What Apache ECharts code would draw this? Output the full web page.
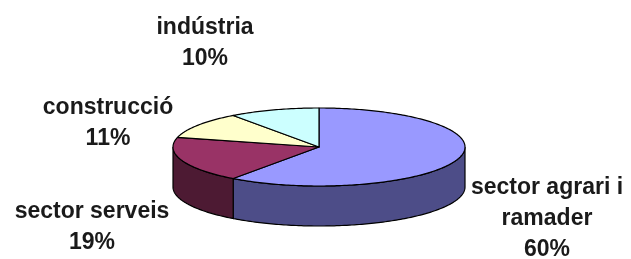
<!DOCTYPE html>
<html>
<head>
<meta charset="utf-8">
<script src="https://cdn.jsdelivr.net/npm/echarts@6/dist/echarts.min.js"></script>
<style>html,body{margin:0;padding:0;background:#fff}#c{width:631px;height:259px}</style>
</head>
<body>
<div id="c"></div>
<script>
// ---- data ----
const categories = ['sector agrari i\nramader', 'sector serveis', 'construcció', 'indústria'];
const values = [60, 19, 11, 10];

// ---- styling / layout (not data) ----
const topColors = ['#9999FF', '#993366', '#FFFFCC', '#CCFFFF'];
const sideColors = ['#4D4D88', '#4D1A33', '#80806A', '#6A8080'];
const labelAnchors = [[547, 193], [92, 217], [108, 113], [205, 33]]; // [centerX, first baseline]
const CX = 319, CY = 147, RX = 146, RY = 39, DEPTH = 40;

const total = values.reduce((a, b) => a + b, 0);
function startAngle(i) { let s = 0; for (let k = 0; k < i; k++) s += values[k]; return s / total * 360; }
function pt(deg, dy) {
  const r = deg * Math.PI / 180;
  return [CX + RX * Math.sin(r), CY - RY * Math.cos(r) + dy];
}
function arc(a, b, dy) {
  const pts = [];
  const n = Math.max(2, Math.ceil(Math.abs(b - a)));
  for (let k = 0; k <= n; k++) pts.push(pt(a + (b - a) * k / n, dy));
  return pts;
}

const chart = echarts.init(document.getElementById('c'), null, { renderer: 'canvas' });
chart.setOption({
  animation: false,
  series: [
    {
      type: 'custom',
      coordinateSystem: 'none',
      z: 1,
      data: values,
      renderItem: function (params, api) {
        const i = params.dataIndex;
        const v = api.value(0);
        const a = startAngle(i), b = a + v / total * 360;
        const lo = Math.max(a, 90), hi = Math.min(b, 270);
        if (hi <= lo) return { type: 'group', children: [] };
        const top = arc(lo, hi, 0);
        const bot = arc(hi, lo, DEPTH);
        return {
          type: 'polygon',
          shape: { points: top.concat(bot) },
          style: { fill: sideColors[i], stroke: '#000', lineWidth: 1.2 }
        };
      }
    },
    {
      type: 'custom',
      coordinateSystem: 'none',
      z: 2,
      data: values,
      renderItem: function (params, api) {
        const i = params.dataIndex;
        const v = api.value(0);
        const a = startAngle(i), b = a + v / total * 360;
        const pts = [[CX, CY]].concat(arc(a, b, 0));
        const pct = Math.round(v / total * 100);
        const anc = labelAnchors[i];
        return {
          type: 'group',
          children: [
            {
              type: 'polygon',
              shape: { points: pts },
              style: { fill: topColors[i], stroke: '#000', lineWidth: 1.2, lineJoin: 'round' }
            },
            {
              type: 'text',
              style: {
                text: categories[i] + '\n' + pct + '%',
                x: anc[0], y: anc[1] - 21,
                align: 'center', verticalAlign: 'top',
                fontSize: 23, fontWeight: 'bold',
                fontFamily: '"Liberation Sans", Arial, sans-serif',
                lineHeight: 31,
                fill: '#1a1a1a'
              }
            }
          ]
        };
      }
    }
  ]
});
</script>
</body>
</html>
